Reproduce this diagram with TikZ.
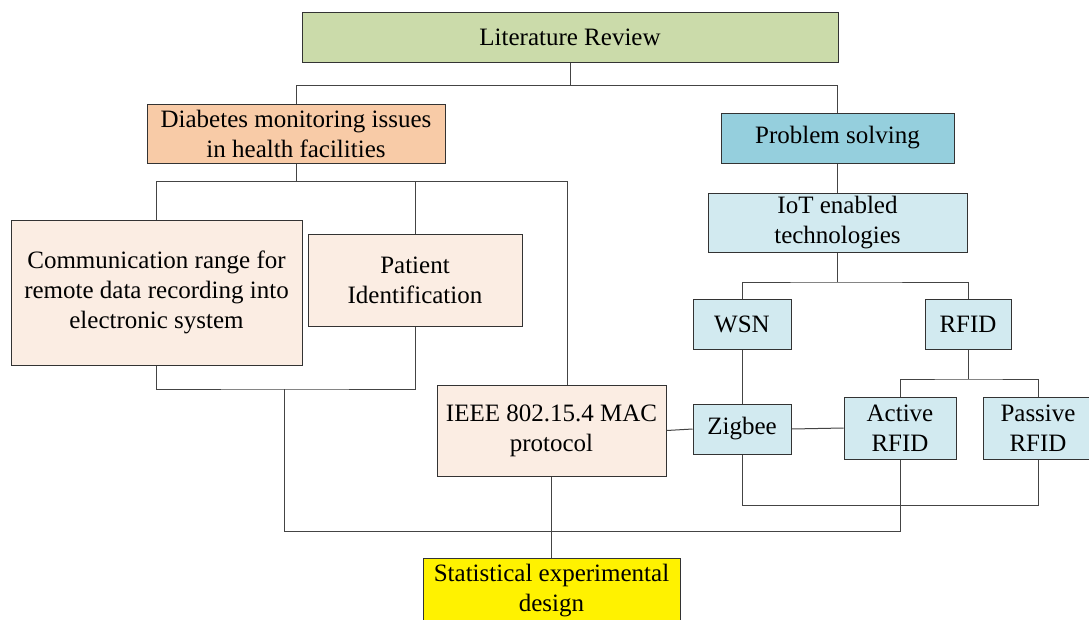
\documentclass[tikz,border=0pt]{standalone}
\usepackage{fontspec}
\setmainfont{Liberation Serif}
\definecolor{litgreen}{HTML}{CBDBAA}
\definecolor{peach}{HTML}{F8CBA7}
\definecolor{lightpeach}{HTML}{FBEDE3}
\definecolor{midblue}{HTML}{95CFDD}
\definecolor{lightblue}{HTML}{D2EAF0}
\definecolor{boxline}{HTML}{333333}
\definecolor{connline}{HTML}{444444}
\tikzset{
  box/.style={draw=boxline, line width=1pt, rectangle, inner sep=2pt, align=center,
    font=\fontsize{25}{30}\selectfont},
  conn/.style={draw=connline, line width=1pt},
}
\begin{document}
\begin{tikzpicture}[x=1pt,y=-1pt]
\clip (0,0) rectangle (1089,619);
\fill[white] (0,0) rectangle (1089,619);
% nodes
\node[box, fill=litgreen, minimum width=536pt, minimum height=50pt] (lit) at (570,37) {Literature Review};
\node[box, fill=peach, minimum width=298pt, minimum height=59pt] (diab) at (296,133.5) {Diabetes monitoring issues\\in health facilities};
\node[box, fill=lightpeach, minimum width=291pt, minimum height=145pt] (comm) at (156.5,292.5) {Communication range for\\remote data recording into\\electronic system};
\node[box, fill=lightpeach, minimum width=214pt, minimum height=92pt] (pat) at (415,280) {Patient\\Identification};
\node[box, fill=lightpeach, minimum width=229pt, minimum height=91pt] (ieee) at (551.5,430.5) {IEEE 802.15.4 MAC\\protocol};
\node[box, fill=yellow, minimum width=257pt, minimum height=66pt] (stat) at (551.5,591) {Statistical experimental\\design};
\node[box, fill=midblue, minimum width=233pt, minimum height=50pt] (prob) at (837.5,138) {Problem solving};
\node[box, fill=lightblue, minimum width=259pt, minimum height=59pt] (iot) at (837.5,222.5) {IoT enabled\\technologies};
\node[box, fill=lightblue, minimum width=98pt, minimum height=50pt] (wsn) at (742,324) {WSN};
\node[box, fill=lightblue, minimum width=86pt, minimum height=50pt] (rfid) at (968,324) {RFID};
\node[box, fill=lightblue, minimum width=98pt, minimum height=50pt] (zig) at (742,429) {Zigbee};
\node[box, fill=lightblue, minimum width=112pt, minimum height=62pt] (act) at (900,428) {Active\\RFID};
\node[box, fill=lightblue, minimum width=110pt, minimum height=62pt] (pas) at (1038,428) {Passive\\RFID};
% junction coordinates
\coordinate (j1) at (570,85);
\coordinate (k) at (567,181);
\coordinate (m) at (284,389);
\coordinate (n) at (284,531);
\coordinate (p) at (837.5,282);
\coordinate (q) at (968,379);
\coordinate (r) at (742,505);
% connectors
\draw[conn] (lit.south) -- (j1);
\draw[conn] (diab.north) -- (diab.north |- j1) -- (prob.north |- j1) -- (prob.north);
\draw[conn] (diab.south) -- (diab.south |- k);
\draw[conn] (comm.north) |- (k) -- (k |- ieee.north);
\draw[conn] (pat.north) -- (pat.north |- k);
\draw[conn] (comm.south) |- (m) -| (pat.south);
\draw[conn] (m) -- (n) -| (act.south);
\draw[conn] (ieee.south) -- (stat.north);
\draw[conn] (ieee.east) -- (zig.west);
\draw[conn] (zig.east) -- (act.west);
\draw[conn] (prob.south) -- (iot.north);
\draw[conn] (iot.south) -- (p);
\draw[conn] (wsn.north) |- (p) -| (rfid.north);
\draw[conn] (wsn.south) -- (zig.north);
\draw[conn] (rfid.south) -- (q);
\draw[conn] (act.north) |- (q) -| (pas.north);
\draw[conn] (zig.south) -- (r) -| (pas.south);
\end{tikzpicture}
\end{document}
